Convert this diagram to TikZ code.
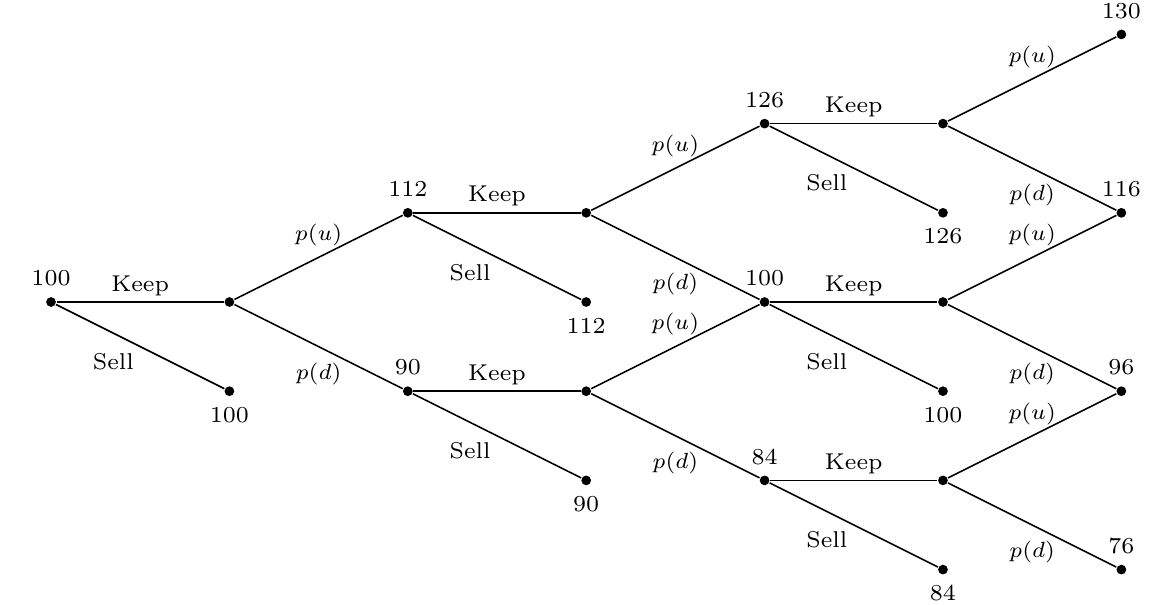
\documentclass[tikz,border=0pt]{standalone}
\usetikzlibrary{arrows,shapes}

\tikzset{
  dot/.style={circle, fill, inner sep=0pt, minimum size=3.1pt},
  keeplab/.style={above, yshift=-1.5pt},
  selllab/.style={below left, xshift=1.5pt, yshift=1.5pt},
  uplab/.style={above},
  downlab/.style={below, yshift=-1.5pt},
  every node/.style={font=\fontsize{7.3}{8.8}\selectfont},
  every label/.style={font=\fontsize{7.3}{8.8}\selectfont},
  label distance=-0.3pt
}

\begin{document}
\begin{tikzpicture}[x=2cm, y=1cm, line width=0.5pt]
\useasboundingbox (-0.286,-3.386) rectangle (6.2165,3.386);

\node[dot, label={above:100}] (r0) at (0,0) {};
\node[dot] (k0) at (1,0) {};
\node[dot, label={below:100}] (s0) at (1,-1) {};

\node[dot, label={above:112}] (u1) at (2,1) {};
\node[dot, label={above:90}] (d1) at (2,-1) {};
\node[dot] (ku1) at (3,1) {};
\node[dot] (kd1) at (3,-1) {};
\node[dot, label={below:112}] (su1) at (3,0) {};
\node[dot, label={below:90}] (sd1) at (3,-2) {};

\node[dot, label={above:126}] (uu) at (4,2) {};
\node[dot, label={above:100}] (ud) at (4,0) {};
\node[dot, label={above:84}] (dd) at (4,-2) {};
\node[dot] (kuu) at (5,2) {};
\node[dot] (kud) at (5,0) {};
\node[dot] (kdd) at (5,-2) {};
\node[dot, label={below:126}] (suu) at (5,1) {};
\node[dot, label={below:100}] (sud) at (5,-1) {};
\node[dot, label={below:84}] (sdd) at (5,-3) {};

\node[dot, label={above:130}] (t1) at (6,3) {};
\node[dot, label={above:116}] (t2) at (6,1) {};
\node[dot, label={above:96}] (t3) at (6,-1) {};
\node[dot, label={above:76}] (t4) at (6,-3) {};

\draw (r0) -- node[keeplab] {Keep} (k0);
\draw (r0) -- node[selllab] {Sell} (s0);
\draw (k0) -- node[uplab] {$p(u)$} (u1);
\draw (k0) -- node[downlab] {$p(d)$} (d1);

\draw (u1) -- node[keeplab] {Keep} (ku1);
\draw (u1) -- node[selllab] {Sell} (su1);
\draw (d1) -- node[keeplab] {Keep} (kd1);
\draw (d1) -- node[selllab] {Sell} (sd1);

\draw (ku1) -- node[uplab] {$p(u)$} (uu);
\draw (ku1) -- node[downlab] {$p(d)$} (ud);
\draw (kd1) -- node[uplab] {$p(u)$} (ud);
\draw (kd1) -- node[downlab] {$p(d)$} (dd);

\draw (uu) -- node[keeplab] {Keep} (kuu);
\draw (uu) -- node[selllab] {Sell} (suu);
\draw (ud) -- node[keeplab] {Keep} (kud);
\draw (ud) -- node[selllab] {Sell} (sud);
\draw (dd) -- node[keeplab] {Keep} (kdd);
\draw (dd) -- node[selllab] {Sell} (sdd);

\draw (kuu) -- node[uplab] {$p(u)$} (t1);
\draw (kuu) -- node[downlab] {$p(d)$} (t2);
\draw (kud) -- node[uplab] {$p(u)$} (t2);
\draw (kud) -- node[downlab] {$p(d)$} (t3);
\draw (kdd) -- node[uplab] {$p(u)$} (t3);
\draw (kdd) -- node[downlab] {$p(d)$} (t4);
\end{tikzpicture}
\end{document}
